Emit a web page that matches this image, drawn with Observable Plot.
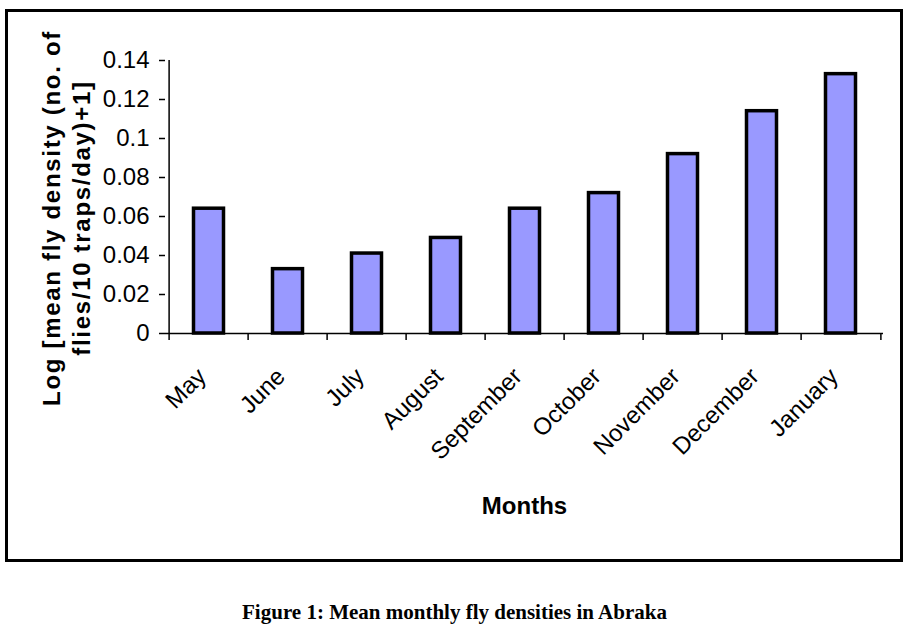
<!DOCTYPE html>
<html>
<head>
<meta charset="utf-8">
<script src="https://cdn.jsdelivr.net/npm/d3@7"></script>
<script src="https://cdn.jsdelivr.net/npm/@observablehq/plot@0.6"></script>
<style>
  html, body { margin: 0; padding: 0; background: #fff; }
  #wrap { position: relative; width: 909px; height: 630px; overflow: hidden; }
  #frame { position: absolute; left: 5px; top: 9px; width: 898px; height: 553px; box-sizing: border-box; border: 3px solid #000; pointer-events: none; }
  #chart { position: absolute; left: 0; top: 0; }
  #caption { position: absolute; left: 0; width: 909px; top: 600px; text-align: center;
    font-family: "Liberation Serif", "Times New Roman", serif; font-weight: bold; font-size: 21px; color: #000; }
</style>
</head>
<body>
<div id="wrap">
  <div id="chart"></div>
  <div id="frame"></div>
  <div id="caption">Figure 1: Mean monthly fly densities in Abraka</div>
</div>
<script>
const months = ["May", "June", "July", "August", "September", "October", "November", "December", "January"];
const density = [0.064, 0.033, 0.041, 0.049, 0.064, 0.072, 0.092, 0.114, 0.133];
const yTicks = [0, 0.02, 0.04, 0.06, 0.08, 0.1, 0.12, 0.14];
const yLabels = ["0", "0.02", "0.04", "0.06", "0.08", "0.1", "0.12", "0.14"];

const data = months.map((m, i) => ({month: m, value: density[i]}));

const W = 909, H = 565;
const mL = 165, mR = 26, mT = 60, mB = H - 333;
const bw = (W - mL - mR) / months.length;
const font = "'Liberation Sans', Arial, sans-serif";

const chart = Plot.plot({
  width: W,
  height: H,
  marginLeft: mL,
  marginRight: mR,
  marginTop: mT,
  marginBottom: mB,
  style: {fontFamily: font, background: "transparent", color: "#000"},
  x: {domain: months, padding: 0, label: null},
  y: {domain: [0, 0.14], label: null},
  marks: [
    Plot.barY(data, {x: "month", y: "value", fill: "#9999ff", stroke: "#000", strokeWidth: 3.5, insetLeft: 24.5, insetRight: 24.5}),
    Plot.ruleY([0], {stroke: "#000", strokeWidth: 1.5}),
    Plot.ruleX(["May"], {y1: 0, y2: 0.14, dx: -bw / 2, stroke: "#000", strokeWidth: 1.5}),
    Plot.axisY({
      ticks: yTicks,
      tickFormat: (d) => yLabels[yTicks.indexOf(d)],
      tickSize: 6,
      tickPadding: 10,
      fontSize: 24,
      label: null,
      stroke: "#000",
      strokeWidth: 1.5,
      style: {letterSpacing: "-1px"}
    }),
    Plot.axisX({ticks: months, tickSize: 7, tickFormat: () => "", dx: -bw / 2, label: null, strokeWidth: 1.5}),
    Plot.axisX({ticks: ["January"], tickSize: 7, tickFormat: () => "", dx: bw / 2, label: null, strokeWidth: 1.5}),
    Plot.axisX({ticks: months, tickSize: 0, tickPadding: 39, dx: -7, tickRotate: -45, fontSize: 24, label: null}),
    Plot.text(["Months"], {frameAnchor: "bottom", dy: 180, fontSize: 24, fontWeight: "bold", fill: "#000"}),
    Plot.text(["Log [mean fly density (no. of\nflies/10 traps/day)+1]"], {
      frameAnchor: "left", rotate: -90, dx: -100, dy: 21, fontSize: 24, fontWeight: "bold",
      lineHeight: 1.25, fill: "#000", textAnchor: "middle"
    })
  ]
});
document.getElementById("chart").appendChild(chart);
chart.querySelectorAll("text").forEach(t => {
  if (t.textContent.startsWith("Log")) t.style.letterSpacing = "1.7px";
});
</script>
</body>
</html>
